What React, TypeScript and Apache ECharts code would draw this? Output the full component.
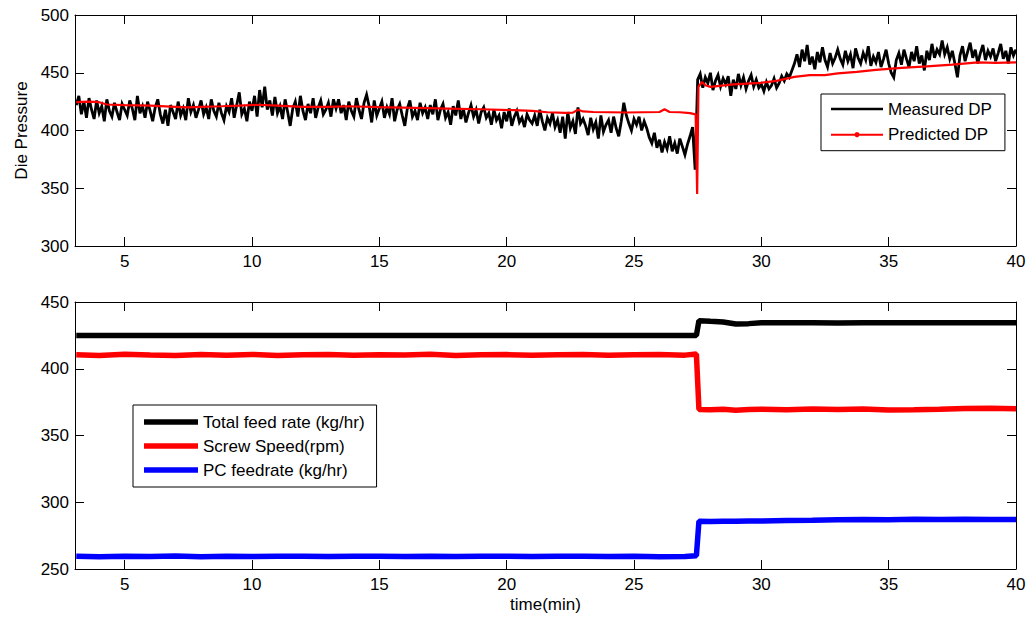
import { useEffect, useRef } from "react";
import * as echarts from "echarts";

// Measured die pressure, sampled every 0.1 min starting at 3.1 min
const MEASURED_T0 = 3.1;
const MEASURED_DT = 0.1;
const measuredDP = [
  // 3.1 - 5.0
  422, 430, 414, 425, 411, 428, 418, 410, 426, 415, 421, 408, 427, 417, 412, 424, 416, 409, 423, 418,
  // 5.1 - 7.0
  413, 426, 419, 409, 430, 415, 421, 411, 425, 417, 408, 420, 427, 414, 406, 418, 404, 422, 416, 410,
  // 7.1 - 9.0
  425, 413, 419, 409, 428, 416, 422, 411, 418, 426, 414, 420, 410, 427, 417, 412, 424, 415, 409, 421,
  // 9.1 - 11.0
  416, 428, 411, 422, 433, 414, 419, 408, 425, 417, 430, 412, 435, 420, 438, 418, 426, 413, 429, 415,
  // 11.1 - 13.0
  421, 410, 427, 416, 404, 419, 425, 412, 430, 417, 409, 423, 415, 428, 411, 420, 426, 414, 418, 424,
  // 13.1 - 15.0
  412, 427, 419, 427, 415, 422, 409, 425, 417, 412, 428, 418, 410, 424, 431, 421, 407, 426, 413, 419,
  // 15.1 - 17.0
  425, 411, 420, 414, 428, 408, 418, 423, 413, 404, 419, 426, 412, 417, 409, 424, 415, 420, 410, 422,
  // 17.1 - 19.0
  414, 427, 409, 418, 423, 411, 416, 405, 421, 413, 426, 410, 419, 407, 415, 422, 412, 418, 406, 416,
  // 19.1 - 21.0
  420, 411, 415, 405, 418, 409, 413, 402, 416, 408, 419, 404, 412, 417, 407, 411, 403, 414, 409, 406,
  // 21.1 - 23.0
  413, 404, 418, 408, 400, 411, 406, 415, 403, 409, 398, 412, 393, 416, 402, 408, 397, 420, 406, 410,
  // 23.1 - 25.0
  404, 396, 411, 401, 407, 393, 413, 399, 405, 409, 398, 412, 402, 395, 408, 424, 413, 406, 400, 410,
  // 25.1 - 27.0
  405, 412, 400, 408, 402, 394, 389, 398, 385, 392, 381, 390, 384, 395, 382, 389, 380, 393, 386, 379,
  // 27.1 - 27.4
  388, 395, 403, 366,
  // 27.5 - 29.0
  444, 449, 437, 446, 441, 450, 435, 443, 448, 438, 445, 440, 447, 430, 444, 436,
  // 29.1 - 31.0
  449, 439, 446, 436, 443, 448, 438, 444, 437, 440, 434, 442, 436, 439, 445, 437, 441, 447, 443, 449,
  // 31.1 - 33.0
  446, 452, 458, 466, 455, 470, 460, 474, 457, 464, 453, 468, 459, 472, 461, 455, 467, 458, 463, 470,
  // 33.1 - 35.0
  462, 457, 469, 460, 466, 454, 471, 463, 458, 467, 461, 473, 456, 464, 459, 468, 455, 462, 470, 458,
  // 35.1 - 37.0
  450, 446, 461, 467, 457, 470, 462, 455, 468, 460, 473, 458, 465, 452, 469, 461, 475, 463, 470, 466,
  // 37.1 - 39.0
  478, 466, 472, 462, 469, 458, 446, 465, 473, 460, 468, 476, 463, 470, 458, 467, 474, 461, 469, 464,
  // 39.1 - 40.0
  471, 460, 467, 475, 462, 469, 458, 472, 465, 470,
];

// Model prediction of die pressure
const predTime = [
  3.1, 3.6, 4.0, 4.3, 5.0, 5.5, 6.0, 7.0, 7.5, 8.0, 8.8, 9.5, 10.2, 11.0, 12.0, 13.0, 13.8, 15.0,
  16.4, 17.7, 19.0, 20.3, 21.0, 21.6, 22.3, 22.6, 22.8, 23.0, 23.4, 24.7, 26.0, 26.2, 26.4, 26.8,
  27.2, 27.42, 27.48, 27.53, 27.67, 27.8, 28.0, 28.9, 29.96, 30.6, 31.3, 31.9, 32.5, 33.0, 33.75,
  34.5, 35.5, 36.5, 37.5, 38.5, 39.2, 40.0,
];
const predictedDP = [
  424.5, 425, 424.5, 422.5, 422, 421.8, 421.5, 420.5, 420, 420.5, 421, 421.5, 422.3, 421.5, 420.5,
  420.5, 421, 420.3, 419.6, 419, 418.4, 417.6, 417, 415.8, 415.3, 415.5, 418, 416.5, 416, 415.6, 416,
  418.4, 416, 415.8, 415, 414, 345, 437.8, 442, 439.2, 437.8, 440, 441.2, 443, 446.4, 447.9, 448,
  449.5, 450.8, 452.5, 454.2, 455.5, 457, 458.9, 458.5, 459,
];

// Process inputs (lower panel)
const feedTime = [
  3.1, 4, 5, 6, 7, 8, 9, 10, 11, 12, 13, 14, 15, 16, 17, 18, 19, 20, 21, 22, 23, 24, 25, 26, 27,
  27.45, 27.55, 28, 28.5, 29, 29.5, 30, 31, 32, 33, 34, 35, 36, 37, 38, 39, 40,
];
const totalFeedRate = [
  425, 425, 425, 425, 425, 425, 425, 425, 425, 425, 425, 425, 425, 425, 425, 425, 425, 425, 425, 425,
  425, 425, 425, 425, 425,
  425, 436, 435.5, 435, 433.5, 433.8, 434.5,
  434.5, 434.5, 434.3, 434.5, 434.5, 434.4, 434.5, 434.5, 434.5, 434.5,
];
const screwSpeed = [
  410.5, 410, 410.8, 410.3, 410, 410.6, 410.2, 410.7, 410, 410.4, 410.6, 410.1, 410.5, 410.3, 410.8,
  410, 410.4, 410.6, 410.2, 410.5, 410.7, 410.1, 410.4, 410.6, 410.2,
  411, 369.5, 369.2, 369.6, 369, 369.4, 369.7,
  369.2, 369.8, 369.4, 369.9, 369.1, 369.3, 369.6, 370.3, 370.4, 370.1,
];
const pcFeedrate = [
  259.5, 259.2, 259.6, 259.3, 259.7, 259.2, 259.5, 259.4, 259.6, 259.5, 259.3, 259.5, 259.6, 259.4,
  259.5, 259.3, 259.6, 259.5, 259.4, 259.6, 259.5, 259.3, 259.6, 259.1, 259.4,
  260, 285.8, 285.6, 285.8, 285.7, 285.9, 286,
  286.3, 286.5, 286.8, 287, 286.9, 287.2, 287, 287.3, 287.1, 287,
];

const xTicks = [5, 10, 15, 20, 25, 30, 35, 40];
const X_MIN = 3.05;
const X_MAX = 40;

const FONT = "'Liberation Sans', Arial, Helvetica, sans-serif";
const TEXT = { color: "#000", fontSize: 17, fontFamily: FONT };

// Legend glyphs: plain line, and line with a dot marker
const ICON_LINE = "path://M0,0h52v2.4h-52z";
const ICON_DOT =
  "path://M0,2h52v2h-52z M26,0.3L27.9,1.1L28.7,3L27.9,4.9L26,5.7L24.1,4.9L23.3,3L24.1,1.1z";
const ICON_THICK = "path://M0,0h54v5.5h-54z";

function xAxis(gridIndex: number, position: "top" | "bottom", labels: boolean, name?: string) {
  return {
    type: "value",
    gridIndex,
    position,
    min: X_MIN,
    max: X_MAX,
    name: name ?? "",
    nameLocation: "middle",
    nameGap: 27,
    nameTextStyle: TEXT,
    axisLine: { show: true, onZero: false, lineStyle: { color: "#000", width: 1 } },
    axisTick: { show: true, inside: true, length: 9, customValues: xTicks, lineStyle: { color: "#000" } },
    axisLabel: { show: labels, customValues: xTicks, margin: 7, ...TEXT },
    splitLine: { show: false },
  };
}

function yAxis(
  gridIndex: number,
  position: "left" | "right",
  min: number,
  max: number,
  labels: boolean,
  name?: string
) {
  return {
    type: "value",
    gridIndex,
    position,
    min,
    max,
    interval: 50,
    name: name ?? "",
    nameLocation: "middle",
    nameGap: 45,
    nameRotate: 90,
    nameTextStyle: TEXT,
    axisLine: { show: true, onZero: false, lineStyle: { color: "#000", width: 1 } },
    axisTick: { show: true, inside: true, length: 9, lineStyle: { color: "#000" } },
    axisLabel: { show: labels, margin: 6, ...TEXT },
    splitLine: { show: false },
  };
}

export default function App() {
  const ref = useRef<HTMLDivElement>(null);

  useEffect(() => {
    if (!ref.current) return;
    const chart = echarts.init(ref.current, null, { renderer: "svg" });

    const measuredData = measuredDP.map((v, i) => [
      Number((MEASURED_T0 + i * MEASURED_DT).toFixed(2)),
      v,
    ]);
    const predictedData = predTime.map((t, i) => [t, predictedDP[i]]);
    const feedData = feedTime.map((t, i) => [t, totalFeedRate[i]]);
    const screwData = feedTime.map((t, i) => [t, screwSpeed[i]]);
    const pcData = feedTime.map((t, i) => [t, pcFeedrate[i]]);

    const option = {
      animation: false,
      backgroundColor: "#fff",
      grid: [
        { left: 75, right: 20, top: 15, height: 231, containLabel: false, outerBoundsMode: "none" },
        { left: 75, right: 20, top: 302, height: 267, containLabel: false, outerBoundsMode: "none" },
      ],
      xAxis: [
        xAxis(0, "bottom", true),
        xAxis(0, "top", false),
        xAxis(1, "bottom", true, "time(min)"),
        xAxis(1, "top", false),
      ],
      yAxis: [
        yAxis(0, "left", 300, 500, true, "Die Pressure"),
        yAxis(0, "right", 300, 500, false),
        yAxis(1, "left", 250, 450, true),
        yAxis(1, "right", 250, 450, false),
      ],
      legend: [
        {
          orient: "vertical",
          left: 821,
          top: 94,
          padding: [6, 13, 7, 10],
          itemWidth: 52,
          itemHeight: 6,
          itemGap: 7.7,
          backgroundColor: "#fff",
          borderColor: "#000",
          borderWidth: 1,
          borderRadius: 0,
          selectedMode: false,
          itemStyle: { borderWidth: 0 },
          textStyle: { ...TEXT, lineHeight: 18 },
          data: [
            { name: "Measured DP", icon: ICON_LINE },
            { name: "Predicted DP", icon: ICON_DOT },
          ],
        },
        {
          orient: "vertical",
          left: 133,
          top: 405,
          padding: [8, 12, 8, 11],
          itemWidth: 54,
          itemHeight: 6,
          itemGap: 6,
          backgroundColor: "#fff",
          borderColor: "#000",
          borderWidth: 1,
          borderRadius: 0,
          selectedMode: false,
          itemStyle: { borderWidth: 0 },
          textStyle: { ...TEXT, lineHeight: 18 },
          data: [
            { name: "Total feed rate (kg/hr)", icon: ICON_THICK },
            { name: "Screw Speed(rpm)", icon: ICON_THICK },
            { name: "PC feedrate (kg/hr)", icon: ICON_THICK },
          ],
        },
      ],
      series: [
        {
          name: "Measured DP",
          type: "line",
          xAxisIndex: 0,
          yAxisIndex: 0,
          data: measuredData,
          symbol: "none",
          color: "#000",
          itemStyle: { color: "#000" },
          lineStyle: { color: "#000", width: 2.8, join: "miter" },
          z: 2,
        },
        {
          name: "Predicted DP",
          type: "line",
          xAxisIndex: 0,
          yAxisIndex: 0,
          data: predictedData,
          symbol: "none",
          color: "#ff0000",
          itemStyle: { color: "#ff0000" },
          lineStyle: { color: "#ff0000", width: 2.2 },
          z: 3,
        },
        {
          name: "Total feed rate (kg/hr)",
          type: "line",
          xAxisIndex: 2,
          yAxisIndex: 2,
          data: feedData,
          symbol: "none",
          color: "#000",
          itemStyle: { color: "#000" },
          lineStyle: { color: "#000", width: 5.5 },
        },
        {
          name: "Screw Speed(rpm)",
          type: "line",
          xAxisIndex: 2,
          yAxisIndex: 2,
          data: screwData,
          symbol: "none",
          color: "#ff0000",
          itemStyle: { color: "#ff0000" },
          lineStyle: { color: "#ff0000", width: 5.5 },
        },
        {
          name: "PC feedrate (kg/hr)",
          type: "line",
          xAxisIndex: 2,
          yAxisIndex: 2,
          data: pcData,
          symbol: "none",
          color: "#0000ff",
          itemStyle: { color: "#0000ff" },
          lineStyle: { color: "#0000ff", width: 5.5 },
        },
      ],
    };

    chart.setOption(option as any);
    return () => chart.dispose();
  }, []);

  return (
    <div
      ref={ref}
      style={{ position: "fixed", left: 0, top: 0, width: 1036, height: 621, background: "#fff" }}
    />
  );
}
